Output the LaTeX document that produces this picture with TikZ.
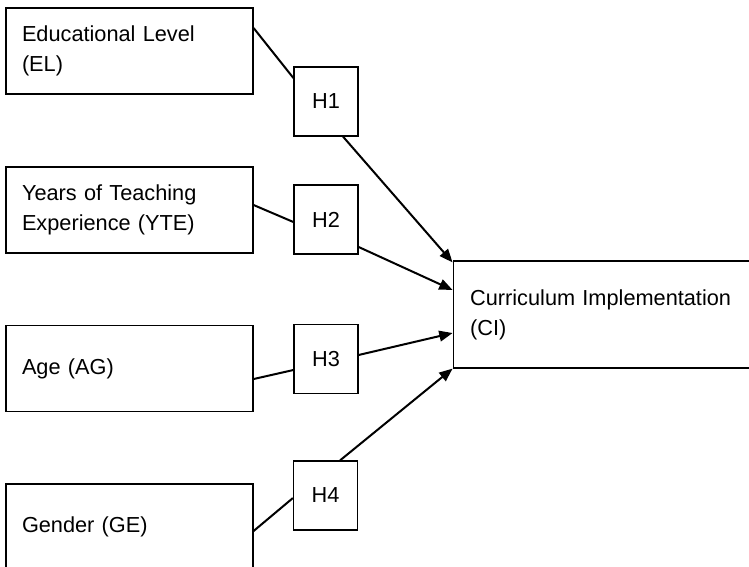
\documentclass[tikz,border=0pt]{standalone}
\usepackage{fontspec}
\setmainfont{Liberation Sans}
\usetikzlibrary{arrows.meta}
\begin{document}
\begin{tikzpicture}
  [x=0.75pt,y=-0.75pt,every node/.style={draw,line width=0.9pt,font=\fontsize{16.3pt}{22.5pt}\selectfont},
   var/.style={inner xsep=12pt,text width=161.25pt,minimum height=64.5pt,align=left},
   hyp/.style={minimum width=48pt,minimum height=51.75pt,inner sep=0pt},
   dep/.style={inner xsep=12.75pt,text width=204.5pt,minimum height=80.25pt,align=left}]
  \useasboundingbox (0,0) rectangle (749,567);
  \clip (0,0) rectangle (749,567);
  \node[var] (el) at (129.5,51) {Educational Level\\(EL)};
  \node[var] (yte) at (129.5,210) {Years of Teaching\\Experience (YTE)};
  \node[var] (ag) at (129.5,368.5) {Age (AG)};
  \node[var] (ge) at (129.5,527) {Gender (GE)};
  \node[hyp] (h1) at (326,101.5) {H1};
  \node[hyp] (h2) at (326,219.5) {H2};
  \node[hyp] (h3) at (326,359) {H3};
  \node[hyp] (h4) at (325.5,495.5) {H4};
  \node[dep] (ci) at (606.5,314.5) {Curriculum Implementation\\(CI)};

\path[draw,line width=1.5pt,every edge/.style={draw,line width=1.5pt}]
    ([yshift=17.25pt]el.east) edge ([yshift=17.6pt]h1.west)
    ([xshift=12.75pt]h1.south) edge [-{Triangle[length=10pt,width=8pt]}] ([yshift=-1.5pt]ci.north west)
    ([yshift=3.75pt]yte.east) edge ([yshift=-1.9pt]h2.west)
    ([yshift=-20.6pt]h2.east) edge [-{Triangle[length=10pt,width=8pt]}] ([yshift=18.4pt]ci.west)
    ([yshift=-7.9pt]ag.east) edge ([yshift=-8.25pt]h3.west)
    ([yshift=3pt]h3.east) edge [-{Triangle[length=10pt,width=8pt]}] ([yshift=-13.9pt]ci.west)
    ([yshift=-3pt]ge.east) edge ([yshift=-1.9pt]h4.west)
    ([xshift=10.9pt]h4.north) edge [-{Triangle[length=10pt,width=8pt]}] (ci.south west)
    ;

\end{tikzpicture}
\end{document}
